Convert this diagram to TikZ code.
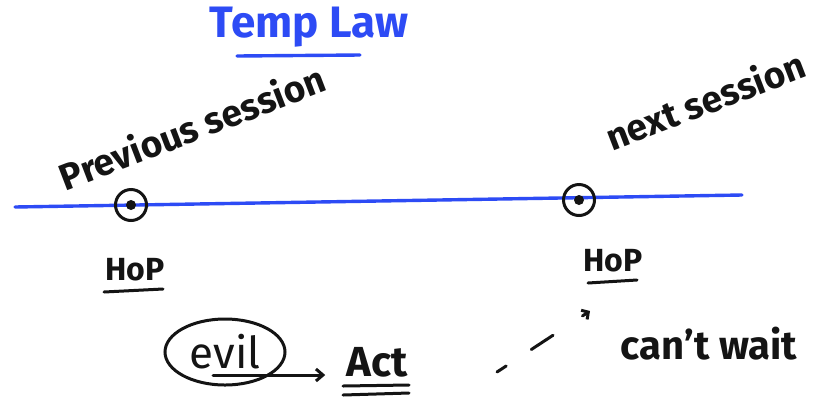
\documentclass[tikz,border=0pt]{standalone}
\usepackage{fontspec}
\setmainfont{Fira Sans}
\usetikzlibrary{arrows.meta,shapes.geometric,calc}
\definecolor{ink}{RGB}{20,20,20}
\definecolor{penblue}{RGB}{45,75,245}
\tikzset{
  hand/.style={text=ink, font=\fontsize{37}{39}\selectfont\bfseries, inner sep=1pt},
  title/.style={text=penblue, font=\fontsize{44}{46}\selectfont\bfseries, inner sep=1pt},
  pen/.style={draw=ink, line width=3pt, line cap=round},
  bluepen/.style={draw=penblue, line width=3.4pt, line cap=round},
  hop/.style={circle, draw=ink, line width=3pt, minimum size=31pt, inner sep=0pt},
  barb/.style={-{Straight Barb[length=7pt,width=12pt]}},
}
\begin{document}
\begin{tikzpicture}[x=1pt,y=-1pt]
\useasboundingbox[fill=white] (0,0) rectangle (834,416);
% title
\node[title] (title) at (309,27) {Temp Law};
\draw[bluepen] (237,56) -- (360,55);
% timeline
\coordinate (tl) at (15,207);
\coordinate (tr) at (742,195);
\draw[bluepen] (tl) -- (tr);
% events
\node[hop] (e1) at (131,205) {};
\fill[ink] (e1.center) circle (5pt);
\node[hop] (e2) at (579,200) {};
\fill[ink] (e2.center) circle (5pt);
% session labels
\node[hand, rotate=21] (prev) at (192,127) {Previous session};
\node[hand, rotate=21] (next) at (705,100) {next session};
% HoP labels
\node[hand, font=\fontsize{32}{34}\selectfont\bfseries] (hop1) at (135,270) {HoP};
\draw[pen] (104,292) -- (163,289);
\node[hand, font=\fontsize{32}{34}\selectfont\bfseries] (hop2) at (613,261) {HoP};
\draw[pen] (588,283) -- (637,280);
% evil -> Act
\node[ellipse, draw=ink, line width=3pt, minimum width=120pt, minimum height=66pt, inner sep=0pt, hand, font=\fontsize{44}{46}\selectfont] (evil) at (225,352) {evil};
\node[hand, font=\fontsize{42}{44}\selectfont\bfseries] (act) at (377,362) {Act};
\draw[pen] (343,386) -- (409,385);
\draw[pen] (343,395) -- (409,393);
\coordinate (es) at ($(evil.center)+(-12,23)$);
\coordinate (ae) at ($(act.west |- es)+(-20,0)$);
\draw[pen, barb] (es) -- (ae);
% can't wait
\node[hand, font=\fontsize{40}{42}\selectfont\bfseries] (cant) at (709,344) {can't wait};
\coordinate (ds) at (497,372);
\coordinate (de) at (590,311);
\draw[pen, dash pattern=on 11pt off 30pt on 26pt off 60pt] (ds) -- (de);
\draw[pen, -{Straight Barb[length=5pt,width=11pt]}] ($(de)!9pt!(ds)$) -- (de);
\end{tikzpicture}
\end{document}
